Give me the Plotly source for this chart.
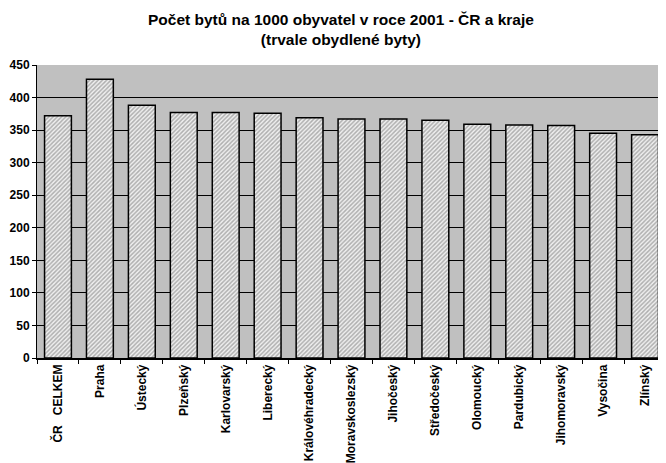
import plotly.graph_objects as go

# data
kraje = ["ČR\u00a0\u00a0\u00a0CELKEM", "Praha", "Ústecký", "Plzeňský", "Karlovarský", "Liberecký",
         "Královéhradecký", "Moravskoslezský", "Jihočeský", "Středočeský", "Olomoucký",
         "Pardubický", "Jihomoravský", "Vysočina", "Zlínský"]
byty = [372, 428, 388, 377, 377, 376, 369, 367, 367, 365, 359, 358, 357, 345, 343]
y_ticks = [0, 50, 100, 150, 200, 250, 300, 350, 400, 450]

font = "Liberation Sans, Arial, sans-serif"

# the page body adds an 8px margin, so the figure is 8px smaller than the window
fig = go.Figure(go.Bar(
    x=kraje, y=byty,
    marker=dict(color="white",
                line=dict(color="black", width=1.5),
                pattern=dict(shape="/", fgcolor="#6e6e6e", bgcolor="#f0f0f0",
                             size=3, solidity=0.5)),
))

fig.update_layout(
    width=658, height=455,
    margin=dict(l=29, r=0, t=57, b=105, autoexpand=False),
    paper_bgcolor="white",
    plot_bgcolor="#c0c0c0",
    bargap=0.36,
    showlegend=False,
    title=dict(text="Počet bytů na 1000 obyvatel v roce 2001 - ČR a kraje<br>(trvale obydlené byty)",
               x=0.506, xanchor="center", y=0.962, yanchor="middle",
               font=dict(family=font, size=15.5, color="black", weight="bold")),
)

fig.update_xaxes(
    tickangle=-90, tickson="boundaries", ticks="outside", ticklen=4,
    tickcolor="black", showline=True, linecolor="black", linewidth=1.5,
    tickfont=dict(family=font, size=12, color="black", weight="bold"),
    showgrid=False, automargin=False,
)
fig.update_yaxes(
    range=[0, 450], tickvals=y_ticks, ticks="outside", ticklen=4,
    tickcolor="black", showline=True, linecolor="black", linewidth=1,
    showgrid=True, gridcolor="black", gridwidth=1, zeroline=False,
    tickfont=dict(family=font, size=12, color="black", weight="bold"),
    automargin=False,
)

fig.write_html("out.html")
